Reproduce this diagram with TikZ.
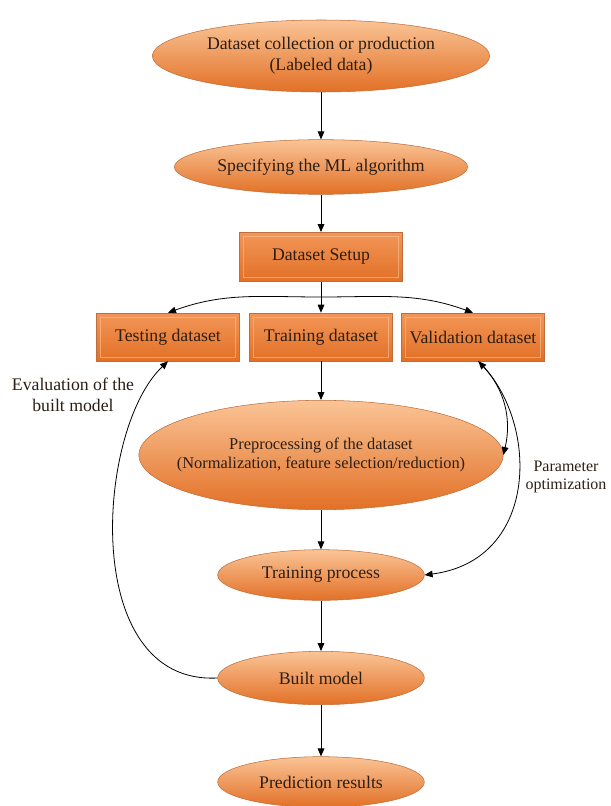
\documentclass[tikz,border=0pt]{standalone}
\usepackage{fontspec}
\setmainfont{Liberation Serif}
\usetikzlibrary{shapes.geometric,arrows.meta}
\definecolor{orlight}{RGB}{250,196,150}
\definecolor{ormid}{RGB}{242,150,88}
\definecolor{ordark}{RGB}{226,112,38}
\definecolor{oredge}{RGB}{190,110,60}
\definecolor{txt}{RGB}{45,30,20}

\begin{document}
\begin{tikzpicture}[x=0.75pt,y=-0.75pt,
    font=\fontsize{13.3}{15.5}\selectfont,
    >={Triangle[length=6pt,width=5pt]},
    oval/.style={ellipse,draw=oredge,line width=0.4pt,top color=orlight,
        middle color=ormid,bottom color=ordark,text=txt,align=center,inner sep=0pt},
    box/.style={rectangle,draw=oredge,line width=0.4pt,top color=ormid,
        bottom color=ordark,text=txt,align=center,inner sep=0pt,
        path picture={\draw[orlight,opacity=0.6,line width=0.4pt]
            ([shift={(3pt,-3pt)}]path picture bounding box.north west) rectangle
            ([shift={(-3pt,3pt)}]path picture bounding box.south east);}},
    note/.style={align=center,text=txt},
    flow/.style={->,line width=0.6pt}]
    \useasboundingbox (0,0) rectangle (610,806);
    \node[oval,minimum width=253pt,minimum height=54pt] (collect) at (321,56)
        {Dataset collection or production\\(Labeled data)};
    \node[oval,minimum width=194pt,minimum height=41pt] (algo) at (321,167)
        {Specifying the ML algorithm};
    \node[box,minimum width=122pt,minimum height=37pt] (setup) at (321,257)
        {Dataset Setup};
    \node[box,minimum width=107pt,minimum height=36pt] (test) at (168,337)
        {Testing dataset};
    \node[box,minimum width=107pt,minimum height=36pt] (train) at (321,337)
        {Training dataset};
    \node[box,minimum width=107pt,minimum height=36pt] (valid) at (473,337)
        {Validation dataset};
    \node[oval,font=\fontsize{12.3}{14.5}\selectfont,inner xsep=-11.5pt,
        minimum height=82pt] (prep) at (321,455)
        {Preprocessing of the dataset\\(Normalization, feature selection/reduction)};
    \node[oval,minimum width=155pt,minimum height=38pt] (proc) at (321,575)
        {Training process};
    \node[oval,minimum width=155pt,minimum height=40pt] (built) at (321,678)
        {Built model};
    \node[oval,minimum width=155pt,minimum height=38pt] (pred) at (321,782)
        {Prediction results};
    \node[note] (evallbl) at (73,395) {Evaluation of the\\built model};
    \node[note,font=\fontsize{12}{14}\selectfont] (paramlbl) at (566,477)
        {Parameter\\optimization};
    \coordinate (fork) at (321,297);

    \draw[flow] (collect) -- (algo);
    \draw[flow] (algo) -- (setup);
    \draw[flow] (setup) -- (train);
    \draw[flow] (fork) to[out=180,in=20] (test.north);
    \draw[flow] (fork) to[out=0,in=160] (valid.north);
    \draw[flow] (train) -- (prep);
    \draw[flow] (prep) -- (proc);
    \draw[flow] (proc) -- (built);
    \draw[flow] (built) -- (pred);
    \draw[flow] (built.west) .. controls +(-138,7) and +(-72,68) .. (test.south);
    \draw[flow,<->] ([xshift=4pt]valid.south) to[bend left=28] (prep.east);
    \draw[flow] ([xshift=4pt]valid.south) .. controls +(61,58) and +(116,-15) .. (proc.east);
\end{tikzpicture}
\end{document}
